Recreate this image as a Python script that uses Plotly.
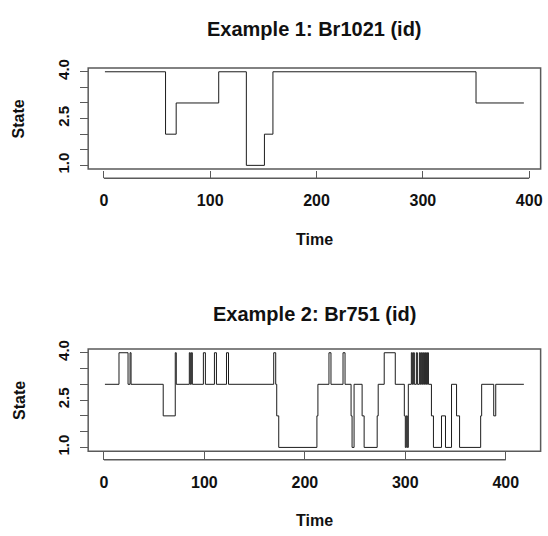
import plotly.graph_objects as go

# ---------------------------------------------------------------------------
# Data: state sequences as change points (time, state); the last entry of
# each series closes the final run.
# ---------------------------------------------------------------------------
TIME_1 = [1, 58, 68, 108, 134, 151, 159, 350, 395]
STATE_1 = [4, 2, 3, 4, 1, 2, 4, 3, 3]

TIME_2 = [1, 15, 24, 26, 27, 59, 71, 72, 85, 86, 87, 88, 99, 101, 110, 112,
          122, 124, 169, 171, 172, 174, 212, 213, 224, 226, 238, 240, 246,
          247, 249, 257, 259, 272, 273, 279, 290, 299, 300, 301, 302, 303,
          306, 307, 308, 309, 311, 312, 314, 315, 316, 317, 318, 319, 320,
          321, 322, 323, 326, 328, 336, 340, 346, 351, 354, 375, 376, 388,
          390, 418]
STATE_2 = [3, 4, 3, 4, 3, 2, 4, 3, 4, 3, 4, 3, 4, 3, 4, 3,
           4, 3, 4, 3, 2, 1, 2, 3, 4, 3, 4, 3, 2,
           1, 3, 2, 1, 2, 3, 4, 3, 2, 1, 2, 1, 3,
           4, 3, 4, 3, 4, 3, 4, 3, 4, 3, 4, 3, 4,
           3, 4, 3, 2, 1, 2, 1, 3, 2, 1, 2, 3, 2,
           3, 3]

TITLES = ["Example 1: Br1021 (id)", "Example 2: Br751 (id)"]
X_TICKS = [0, 100, 200, 300, 400]
Y_TICKS = [1.0, 1.5, 2.0, 2.5, 3.0, 3.5, 4.0]
Y_TICK_TEXT = ["1.0", "", "", "2.5", "", "", "4.0"]
X_LABEL = "Time"
Y_LABEL = "State"

# ---------------------------------------------------------------------------
# Page geometry (pixels from the top-left corner)
# ---------------------------------------------------------------------------
W, H = 548, 536
BOX_LEFT, BOX_RIGHT = 88.5, 542.6
PANELS = [
    dict(top=60.5, bottom=164.1, axis=173.5, title=20, xlabel=236),
    dict(top=348.4, bottom=453.2, axis=462.0, title=313, xlabel=524),
]

FONT = "Liberation Sans, Arial, sans-serif"
INK = "#1c1c1c"
FRAME = "#5a5a5a"


def fx(p):
    return p / W


def fy(p):
    return 1 - p / H


def padded(values):
    # 4% extension on both sides, as in base R graphics
    lo, hi = min(values), max(values)
    d = (hi - lo) * 0.04
    return [lo - d, hi + d]


fig = go.Figure()
series = [(TIME_1, STATE_1), (TIME_2, STATE_2)]
shapes = []
annotations = []
layout = {}

for i, ((t, s), panel, title) in enumerate(zip(series, PANELS, TITLES), start=1):
    xa = "x" if i == 1 else f"x{i}"
    ya = "y" if i == 1 else f"y{i}"
    xkey = "xaxis" if i == 1 else f"xaxis{i}"
    ykey = "yaxis" if i == 1 else f"yaxis{i}"

    fig.add_trace(go.Scatter(
        x=t, y=s, mode="lines", xaxis=xa, yaxis=ya,
        line=dict(shape="hv", color=INK, width=1.0),
        hoverinfo="skip", showlegend=False,
    ))

    layout[xkey] = dict(
        domain=[fx(BOX_LEFT), fx(BOX_RIGHT)],
        anchor="free", position=fy(panel["axis"]),
        range=padded(t), tickvals=X_TICKS,
        ticks="inside", ticklen=7.5, tickwidth=1.3, tickcolor=FRAME,
        showline=False, showgrid=False, zeroline=False,
        tickfont=dict(family=FONT, size=16, color="#111", weight="bold"),
        ticklabelstandoff=11,
    )
    layout[ykey] = dict(
        domain=[fy(panel["bottom"]), fy(panel["top"])],
        anchor="free", position=fx(BOX_LEFT),
        range=padded(Y_TICKS), tickvals=Y_TICKS, ticktext=Y_TICK_TEXT,
        ticks="outside", ticklen=8.5, tickwidth=1.3, tickcolor=FRAME,
        tickangle=-90,
        showline=False, showgrid=False, zeroline=False,
        tickfont=dict(family=FONT, size=15, color="#111", weight="bold"),
        ticklabelstandoff=5,
    )

    # plot frame
    shapes.append(dict(type="rect", xref=f"{xa} domain", yref=f"{ya} domain",
                       x0=0, x1=1, y0=0, y1=1,
                       line=dict(color=FRAME, width=1.5)))
    # x axis line spanning the first to the last tick
    shapes.append(dict(type="line", xref=xa, yref="paper",
                       x0=X_TICKS[0], x1=X_TICKS[-1],
                       y0=fy(panel["axis"]), y1=fy(panel["axis"]),
                       line=dict(color=FRAME, width=1.5)))

    cx = fx((BOX_LEFT + BOX_RIGHT) / 2)
    annotations.append(dict(text=title, x=cx, y=fy(panel["title"]),
                            xref="paper", yref="paper", showarrow=False,
                            xanchor="center", yanchor="middle",
                            font=dict(family=FONT, size=20, color="#111",
                                      weight="bold")))
    annotations.append(dict(text=X_LABEL, x=cx, y=fy(panel["xlabel"]),
                            xref="paper", yref="paper", showarrow=False,
                            xanchor="center", yanchor="middle",
                            font=dict(family=FONT, size=16, color="#111",
                                      weight="bold")))
    annotations.append(dict(text=Y_LABEL, x=fx(19),
                            y=fy((panel["top"] + panel["bottom"]) / 2),
                            xref="paper", yref="paper", showarrow=False,
                            xanchor="center", yanchor="middle", textangle=-90,
                            font=dict(family=FONT, size=16, color="#111",
                                      weight="bold")))

fig.update_layout(
    width=W, height=H, autosize=False,
    margin=dict(l=0, r=0, t=0, b=0),
    paper_bgcolor="white", plot_bgcolor="white",
    shapes=shapes, annotations=annotations,
    **layout,
)

fig.write_html("out.html")
